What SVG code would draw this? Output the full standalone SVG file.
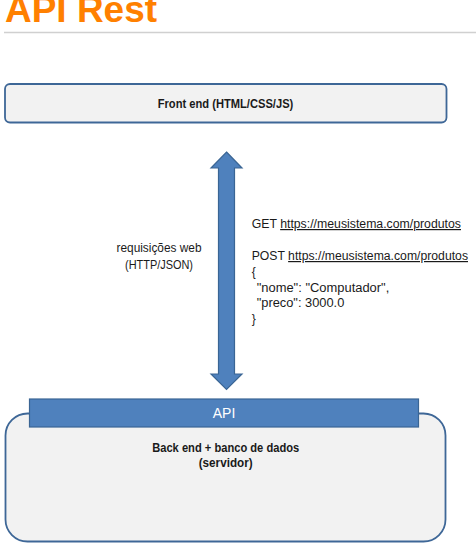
<svg xmlns="http://www.w3.org/2000/svg" width="476" height="546" viewBox="0 0 476 546">
<style>
  text { font-family: "Liberation Sans", "Open Sans", Arial, sans-serif; fill: #1a1a1a; }
  .box { fill: #f2f2f2; stroke: #3e6797; stroke-width: 1.8; }
  .bold { font-weight: bold; font-size: 12px; }
  .reg { font-size: 12px; }
  .mid { text-anchor: middle; }
  .blue { fill: #4f81bd; stroke: #3a6594; stroke-width: 1.2; }
</style>
<rect width="476" height="546" fill="#ffffff"/>
<g id="title">
  <text x="5" y="22" font-size="37" font-weight="bold" style="fill:#ff8000" textLength="152" lengthAdjust="spacingAndGlyphs">API Rest</text>
  <line x1="4" y1="32.5" x2="476" y2="32.5" stroke="#d0d0d0" stroke-width="1.5"/>
</g>
<g id="frontend">
  <rect class="box" x="5" y="84" width="441.5" height="38.5" rx="5"/>
  <text class="bold mid" x="225.5" y="108" textLength="135.6" lengthAdjust="spacingAndGlyphs">Front end (HTML/CSS/JS)</text>
</g>
<g id="connectors">
  <polygon class="blue" points="226.5,152 242,168 234.5,168 234.5,374 242,374 226.5,389.5 211,374 218.5,374 218.5,168 211,168"/>
</g>
<g id="requests-label">
  <text class="reg mid" x="159" y="252" textLength="85" lengthAdjust="spacingAndGlyphs">requisições web</text>
  <text class="reg mid" x="159" y="269" textLength="68" lengthAdjust="spacingAndGlyphs">(HTTP/JSON)</text>
</g>
<g id="request-example">
  <text class="reg" x="251.7" y="228" textLength="209.3" lengthAdjust="spacingAndGlyphs">GET <tspan text-decoration="underline">https://meusistema.com/produtos</tspan></text>
  <text class="reg" x="251.7" y="260" textLength="216.3" lengthAdjust="spacingAndGlyphs">POST <tspan text-decoration="underline">https://meusistema.com/produtos</tspan></text>
  <text class="reg" x="251.7" y="276">{</text>
  <text class="reg" x="256.7" y="291.5" textLength="132.6" lengthAdjust="spacingAndGlyphs">"nome": "Computador",</text>
  <text class="reg" x="256.7" y="307" textLength="87.6" lengthAdjust="spacingAndGlyphs">"preco": 3000.0</text>
  <text class="reg" x="251.7" y="322.5">}</text>
</g>
<g id="backend">
  <rect class="box" x="5.5" y="413.5" width="440" height="128" rx="22"/>
  <text class="bold mid" x="225.7" y="451.7" textLength="147" lengthAdjust="spacingAndGlyphs">Back end + banco de dados</text>
  <text class="bold mid" x="225.7" y="467" textLength="54" lengthAdjust="spacingAndGlyphs">(servidor)</text>
</g>
<g id="api">
  <rect class="blue" x="29.5" y="399" width="389" height="28"/>
  <text class="mid" x="224" y="418.3" font-size="14" style="fill:#ffffff">API</text>
</g>
</svg>
